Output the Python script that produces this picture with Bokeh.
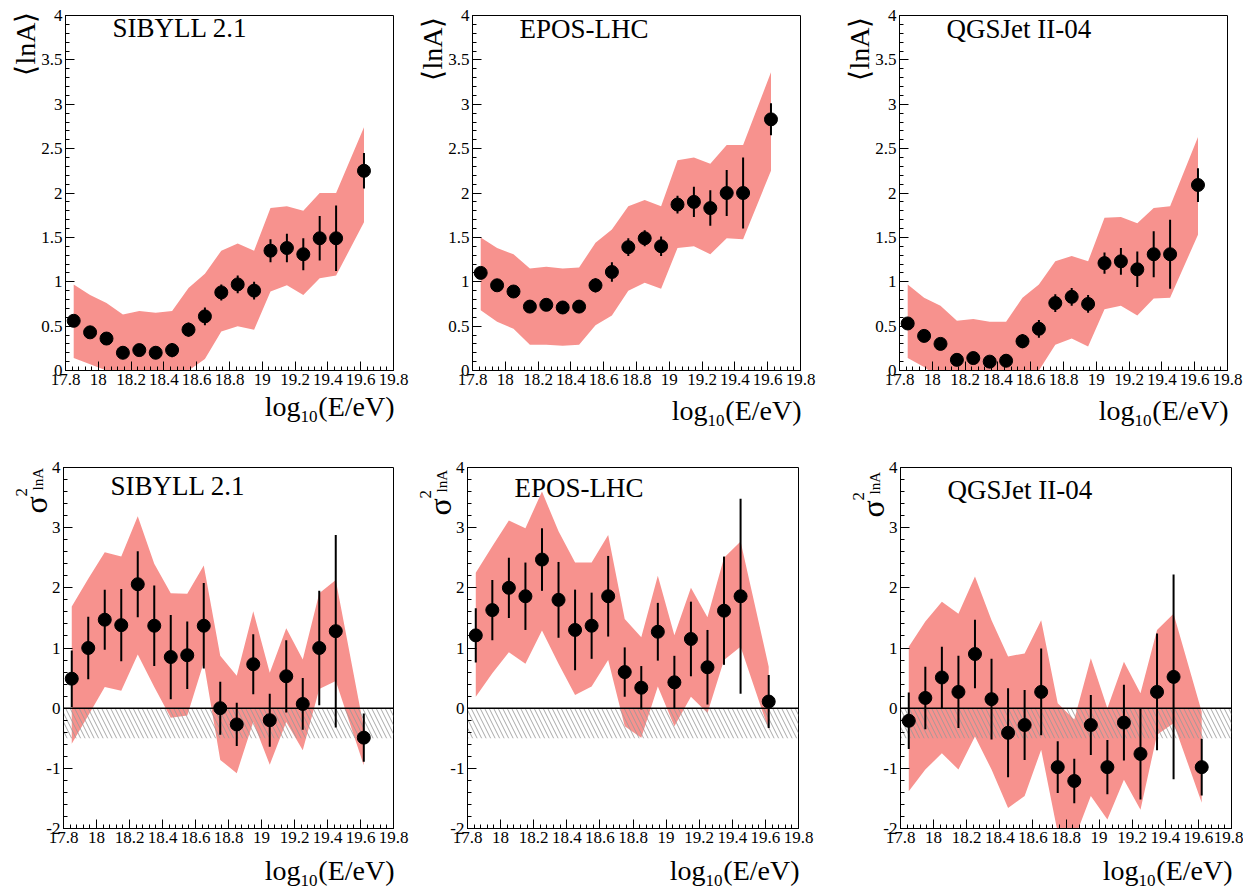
import numpy as np
from bokeh.plotting import figure
from bokeh.models import Label, FixedTicker, Range1d, Span, ColumnDataSource, GridBox
from bokeh.layouts import column, row
from bokeh.core.properties import value
from bokeh.embed import file_html
from bokeh.resources import INLINE

SERIF = "Liberation Serif"
BAND_COLOR = "#F7928E"
HATCH_COLOR = "#999999"

# ---------------------------------------------------------------- data
log_e = [17.85, 17.95, 18.05, 18.15, 18.25, 18.35, 18.45, 18.55, 18.65,
         18.75, 18.85, 18.95, 19.05, 19.15, 19.25, 19.35, 19.45, 19.62]

models = ["SIBYLL 2.1", "EPOS-LHC", "QGSJet II-04"]

# <lnA> : mean, statistical error, systematic band (upper / lower edge)
lna_sibyll = [0.56, 0.43, 0.36, 0.20, 0.23, 0.20, 0.23, 0.46, 0.61,
              0.88, 0.97, 0.90, 1.35, 1.38, 1.31, 1.49, 1.49, 2.25]
lna_sibyll_err = [0.05, 0.06, 0.06, 0.07, 0.07, 0.07, 0.08, 0.08, 0.10,
                  0.09, 0.10, 0.10, 0.13, 0.16, 0.18, 0.25, 0.37, 0.20]
lna_sibyll_hi = [0.97, 0.85, 0.76, 0.63, 0.67, 0.65, 0.67, 0.93, 1.09,
                 1.35, 1.43, 1.35, 1.83, 1.85, 1.80, 2.00, 2.00, 2.74]
lna_sibyll_lo = [0.14, 0.07, 0.00, -0.22, -0.20, -0.22, -0.20, 0.00, 0.13,
                 0.44, 0.50, 0.46, 0.89, 0.96, 0.85, 1.04, 1.07, 1.67]

lna_epos = [1.10, 0.96, 0.89, 0.72, 0.74, 0.71, 0.72, 0.96, 1.11,
            1.39, 1.49, 1.40, 1.87, 1.90, 1.83, 2.00, 2.00, 2.83]
lna_epos_err = [0.05, 0.06, 0.05, 0.06, 0.06, 0.07, 0.07, 0.08, 0.11,
                0.10, 0.09, 0.11, 0.10, 0.17, 0.20, 0.26, 0.40, 0.18]
lna_epos_hi = [1.50, 1.38, 1.31, 1.15, 1.17, 1.15, 1.16, 1.44, 1.59,
               1.85, 1.92, 1.85, 2.37, 2.40, 2.33, 2.54, 2.54, 3.36]
lna_epos_lo = [0.68, 0.55, 0.47, 0.29, 0.29, 0.28, 0.29, 0.51, 0.62,
               0.90, 0.99, 0.92, 1.38, 1.40, 1.31, 1.49, 1.48, 2.25]

lna_qgsjet = [0.53, 0.39, 0.30, 0.12, 0.14, 0.10, 0.11, 0.33, 0.47,
              0.76, 0.83, 0.75, 1.21, 1.23, 1.14, 1.31, 1.31, 2.09]
lna_qgsjet_err = [0.05, 0.05, 0.05, 0.07, 0.07, 0.06, 0.07, 0.08, 0.10,
                  0.10, 0.10, 0.10, 0.12, 0.15, 0.20, 0.26, 0.39, 0.19]
lna_qgsjet_hi = [0.97, 0.82, 0.73, 0.56, 0.58, 0.55, 0.55, 0.82, 0.97,
                 1.23, 1.29, 1.23, 1.72, 1.73, 1.66, 1.83, 1.85, 2.63]
lna_qgsjet_lo = [0.14, 0.04, -0.10, -0.30, -0.30, -0.32, -0.32, -0.15, 0.00,
                 0.29, 0.36, 0.27, 0.69, 0.73, 0.62, 0.81, 0.82, 1.53]

# sigma^2(lnA) : mean, statistical error, systematic band (upper / lower edge)
s2_sibyll = [0.49, 1.00, 1.47, 1.38, 2.06, 1.37, 0.85, 0.88, 1.37,
             0.00, -0.27, 0.73, -0.20, 0.53, 0.07, 1.00, 1.28, -0.49]
s2_sibyll_err = [0.47, 0.52, 0.50, 0.60, 0.55, 0.67, 0.70, 0.56, 0.71,
                 0.44, 0.36, 0.50, 0.44, 0.60, 0.43, 0.95, 1.60, 0.40]
s2_sibyll_hi = [1.69, 2.15, 2.59, 2.52, 3.19, 2.40, 1.91, 1.90, 2.37,
                0.87, 0.54, 1.61, 0.59, 1.33, 0.81, 1.91, 2.13, -0.32]
s2_sibyll_lo = [-0.59, -0.12, 0.35, 0.29, 0.89, 0.35, -0.16, -0.12, 0.76,
                -0.86, -1.08, -0.23, -0.94, -0.23, -0.70, 0.32, 0.45, -0.95]

s2_epos = [1.21, 1.63, 2.00, 1.86, 2.47, 1.80, 1.30, 1.37, 1.86,
           0.60, 0.34, 1.27, 0.43, 1.15, 0.68, 1.62, 1.86, 0.11]
s2_epos_err = [0.45, 0.50, 0.50, 0.56, 0.52, 0.63, 0.67, 0.55, 0.67,
               0.41, 0.36, 0.48, 0.44, 0.62, 0.62, 0.90, 1.62, 0.44]
s2_epos_hi = [2.25, 2.69, 3.12, 2.99, 3.60, 2.94, 2.42, 2.42, 2.88,
              1.48, 1.18, 2.20, 1.21, 2.00, 1.51, 2.50, 2.77, 0.69]
s2_epos_lo = [0.19, 0.58, 0.93, 0.74, 1.29, 0.74, 0.22, 0.36, 0.80,
              -0.30, -0.49, 0.36, -0.30, 0.19, -0.08, 0.80, 1.02, -0.36]

s2_qgsjet = [-0.21, 0.17, 0.51, 0.27, 0.90, 0.15, -0.41, -0.28, 0.27,
             -0.98, -1.21, -0.28, -0.98, -0.24, -0.76, 0.27, 0.52, -0.98]
s2_qgsjet_err = [0.47, 0.52, 0.51, 0.60, 0.57, 0.67, 0.74, 0.58, 0.72,
                 0.43, 0.37, 0.50, 0.45, 0.63, 0.76, 0.97, 1.70, 0.47]
s2_qgsjet_hi = [1.02, 1.44, 1.77, 1.57, 2.19, 1.46, 0.86, 0.91, 1.46,
                0.08, -0.19, 0.83, 0.00, 0.77, 0.25, 1.30, 1.57, -0.06]
s2_qgsjet_lo = [-1.38, -1.02, -0.75, -1.02, -0.47, -1.02, -1.66, -1.46, -0.69,
                -2.07, -2.18, -1.46, -1.85, -1.19, -1.69, -0.44, -0.25, -1.57]

# lower edge of the hatched (unphysical) sigma^2 strip below zero
s2_hatch_lo = -0.5

# ---------------------------------------------------------------- axes
x_range = (17.8, 19.8)
x_ticks = [17.8, 18.0, 18.2, 18.4, 18.6, 18.8, 19.0, 19.2, 19.4, 19.6, 19.8]
x_tick_labels = ["17.8", "18", "18.2", "18.4", "18.6", "18.8",
                 "19", "19.2", "19.4", "19.6", "19.8"]
x_minor = [round(17.8 + 0.04 * i, 2) for i in range(51)]

lna_range = (0.0, 4.0)
lna_ticks = [0.0, 0.5, 1.0, 1.5, 2.0, 2.5, 3.0, 3.5, 4.0]
lna_tick_labels = ["0", "0.5", "1", "1.5", "2", "2.5", "3", "3.5", "4"]
lna_minor = [round(0.1 * i, 1) for i in range(41)]

s2_range = (-2.0, 4.0)
s2_ticks = [-2.0, -1.0, 0.0, 1.0, 2.0, 3.0, 4.0]
s2_tick_labels = ["-2", "-1", "0", "1", "2", "3", "4"]
s2_minor = [round(-2.0 + 0.2 * i, 1) for i in range(31)]

# page layout: column widths, row heights and each panel's frame placement
col_widths = [410, 420, 413]
row_heights = [430, 460]
top_geom = [
    dict(left=65, right=17, top=10, bottom=60, fw=328, fh=360),
    dict(left=62, right=30, top=15, bottom=56, fw=328, fh=359),
    dict(left=69, right=16, top=15, bottom=56, fw=328, fh=359),
]
bottom_geom = [
    dict(left=63, right=17, top=33, bottom=62, fw=330, fh=365),
    dict(left=57, right=32, top=35, bottom=62, fw=331, fh=363),
    dict(left=70, right=12, top=37, bottom=62, fw=331, fh=361),
]
PAGE_W, PAGE_H = sum(col_widths), sum(row_heights)


def make_panel(g, yr, yticks, ylabels, yminor, name, mean, err, hi, lo,
               sigma_panel):
    w = g["left"] + g["fw"] + g["right"]
    h = g["top"] + g["fh"] + g["bottom"]
    p = figure(width=w, height=h, output_backend="svg", toolbar_location=None,
               x_range=Range1d(*x_range), y_range=Range1d(*yr),
               min_border_left=g["left"], min_border_right=g["right"],
               min_border_top=g["top"], min_border_bottom=g["bottom"],
               background_fill_color="white", border_fill_color="white")
    p.grid.visible = False
    p.outline_line_color = "black"
    p.outline_line_width = 1

    for ax, ticks, labels, minor in ((p.xaxis[0], x_ticks, x_tick_labels, x_minor),
                                     (p.yaxis[0], yticks, ylabels, yminor)):
        ax.ticker = FixedTicker(ticks=ticks, minor_ticks=minor)
        ax.major_label_overrides = {t: s for t, s in zip(ticks, labels)}
        ax.major_tick_in = 9
        ax.major_tick_out = 0
        ax.minor_tick_in = 4
        ax.minor_tick_out = 0
        ax.major_tick_line_color = "black"
        ax.minor_tick_line_color = "black"
        ax.axis_line_color = "black"
        ax.major_label_text_font = SERIF
        ax.major_label_text_font_size = "17px"
        ax.major_label_text_color = "black"
        ax.major_label_standoff = 3

    src = ColumnDataSource(dict(
        x=log_e, y=mean, hi=hi, lo=lo,
        top=[m + e for m, e in zip(mean, err)],
        bot=[m - e for m, e in zip(mean, err)]))

    p.varea(x="x", y1="lo", y2="hi", source=src, fill_color=BAND_COLOR,
            fill_alpha=1.0)

    if sigma_panel:
        p.quad(left=x_range[0], right=x_range[1], top=0.0, bottom=s2_hatch_lo,
               fill_alpha=0.0, line_alpha=0.0, hatch_pattern="\\",
               hatch_color=HATCH_COLOR, hatch_scale=9, hatch_weight=1,
               hatch_alpha=0.85)
        p.add_layout(Span(location=0.0, dimension="width", line_color="black",
                          line_width=1.5))

    p.segment(x0="x", y0="bot", x1="x", y1="top", source=src,
              line_color="black", line_width=2)
    p.scatter(x="x", y="y", source=src, size=13, fill_color="black",
              line_color="black")

    # model name inside the frame, near its top-left corner
    p.add_layout(Label(x=47, y=g["fh"] - (37 if sigma_panel else 32),
                       x_units="screen", y_units="screen", text=name,
                       text_font=SERIF, text_font_size="27px",
                       text_color="black"))
    return p


lna_sets = [
    (lna_sibyll, lna_sibyll_err, lna_sibyll_hi, lna_sibyll_lo),
    (lna_epos, lna_epos_err, lna_epos_hi, lna_epos_lo),
    (lna_qgsjet, lna_qgsjet_err, lna_qgsjet_hi, lna_qgsjet_lo),
]
s2_sets = [
    (s2_sibyll, s2_sibyll_err, s2_sibyll_hi, s2_sibyll_lo),
    (s2_epos, s2_epos_err, s2_epos_hi, s2_epos_lo),
    (s2_qgsjet, s2_qgsjet_err, s2_qgsjet_hi, s2_qgsjet_lo),
]

top_row = [make_panel(g, lna_range, lna_ticks, lna_tick_labels, lna_minor,
                      name, *vals, sigma_panel=False)
           for g, name, vals in zip(top_geom, models, lna_sets)]
bottom_row = [make_panel(g, s2_range, s2_ticks, s2_tick_labels, s2_minor,
                         name, *vals, sigma_panel=True)
              for g, name, vals in zip(bottom_geom, models, s2_sets)]

panels = column(row(*top_row, spacing=0), row(*bottom_row, spacing=0),
                spacing=0)

# ------------------------------------------------ axis titles (page overlay)
# A transparent page-sized canvas carries the axis titles, which sit
# outside the panels' frames; its ranges are page pixels, y pointing down.
titles = figure(width=PAGE_W, height=PAGE_H, output_backend="svg",
                toolbar_location=None, x_axis_type=None, y_axis_type=None,
                x_range=Range1d(0, PAGE_W), y_range=Range1d(PAGE_H, 0),
                min_border=0, min_border_left=0, min_border_right=0,
                min_border_top=0, min_border_bottom=0,
                background_fill_alpha=0.0, border_fill_alpha=0.0,
                outline_line_color=None)


def title_text(x, y, text, size, angle=0.0, align="left", baseline="alphabetic"):
    titles.text(x=[x], y=[y], text=[text], angle=angle,
                text_font=value(SERIF), text_font_size=f"{size}px",
                text_align=align, text_baseline=baseline, text_color="black")


x_title_dy = [36, 42]
for r, geoms in enumerate((top_geom, bottom_geom)):
    oy = sum(row_heights[:r])
    for c, g in enumerate(geoms):
        ox = sum(col_widths[:c])
        fl, ft = ox + g["left"], oy + g["top"]
        fr, fb = fl + g["fw"], ft + g["fh"]
        # log_10(E/eV), right aligned under the frame
        yb = fb + x_title_dy[r]
        title_text(fr + 1, yb, "(E/eV)", 28, align="right")
        title_text(fr - 76, yb + 10, "10", 17, align="right")
        title_text(fr - 93, yb, "log", 28, align="right")
        # vertical title at the top of the y axis
        if r == 0:
            title_text(fl - 40, ft + 1, "\u27e8lnA\u27e9", 28, angle=np.pi / 2,
                       align="right", baseline="middle")
        else:
            title_text(fl - 28, ft + 50, "\u03c3", 32, angle=np.pi / 2)
            title_text(fl - 42, ft + 33, "2", 17, angle=np.pi / 2)
            title_text(fl - 26, ft + 27, "lnA", 15, angle=np.pi / 2)

# both children share the single grid cell; the titles canvas lies on top
layout = GridBox(children=[(panels, 0, 0), (titles, 0, 0)], spacing=0)

with open("out.html", "w") as f:
    f.write(file_html(layout, INLINE))
